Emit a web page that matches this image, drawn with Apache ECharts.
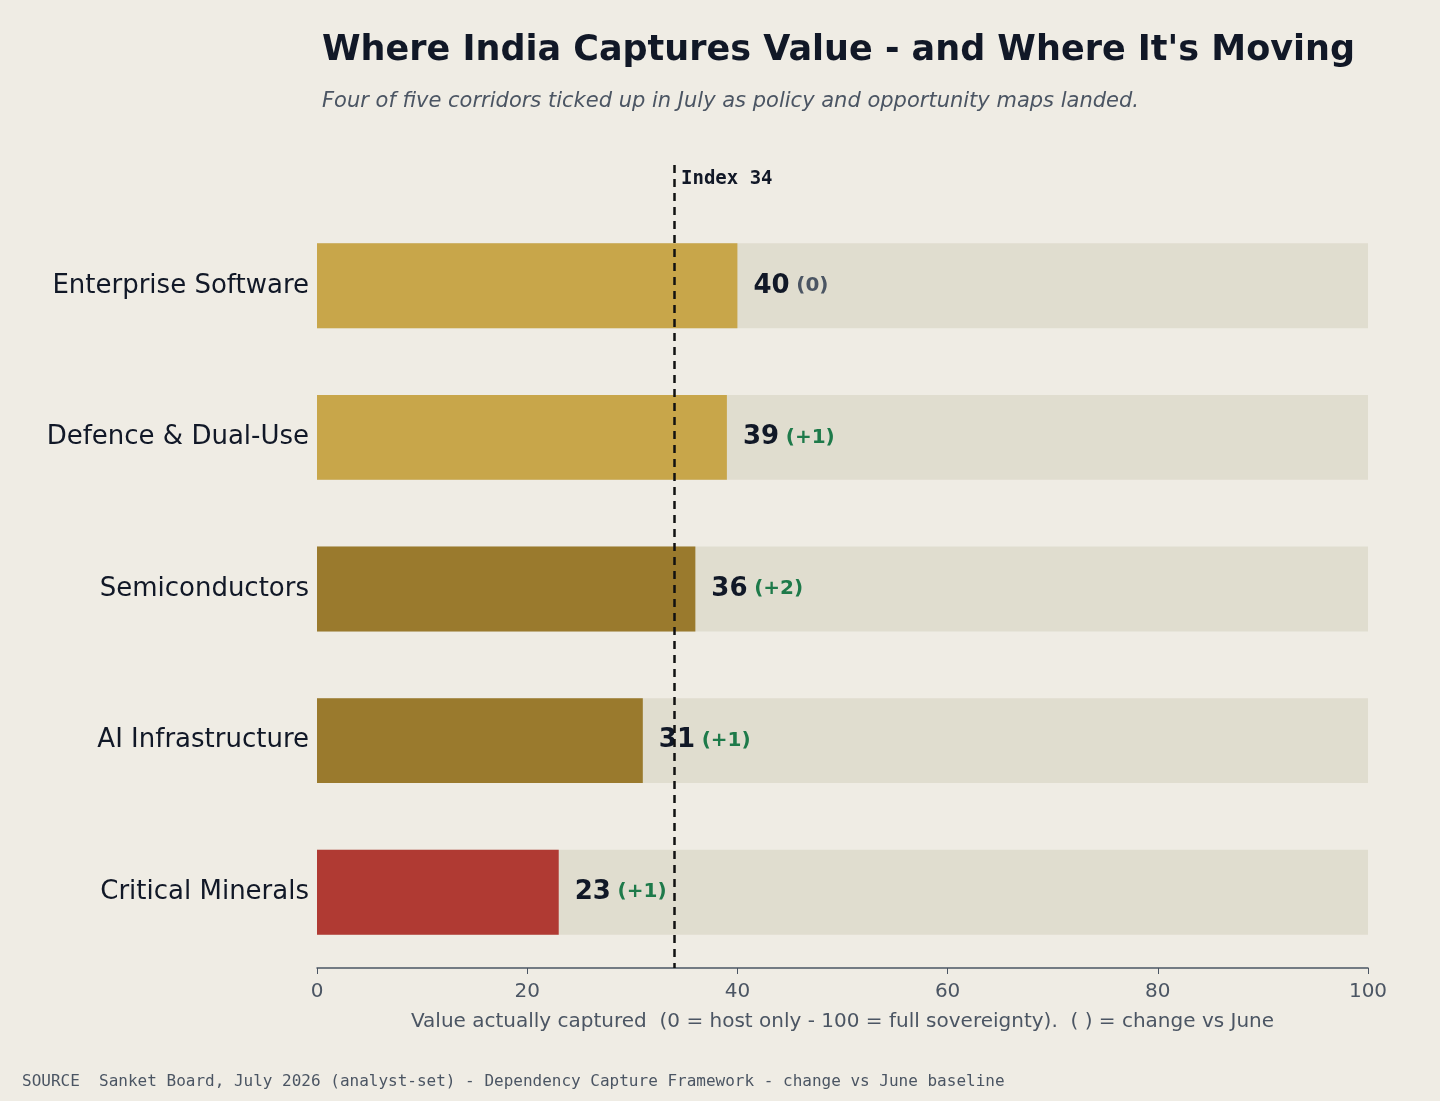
<!DOCTYPE html>
<html><head><meta charset="utf-8">
<script src="https://cdn.jsdelivr.net/npm/echarts@6/dist/echarts.min.js"></script>
<style>html,body{margin:0;background:#efece4}#main{width:1440px;height:1101px}</style>
</head><body><div id="main"></div>
<script>
var categories = ['Critical Minerals', 'AI Infrastructure', 'Semiconductors', 'Defence & Dual-Use', 'Enterprise Software'];
var values = [23, 31, 36, 39, 40];
var changes = ['(+1)', '(+1)', '(+2)', '(+1)', '(0)'];
var barColors = ['#b03a33', '#9a7a2d', '#9a7a2d', '#c8a64a', '#c8a64a'];
var indexValue = 34;
var xTicks = [0, 20, 40, 60, 80, 100];

var font = 'DejaVu Sans';
var myChart = echarts.init(document.getElementById('main'));
var option = {
    backgroundColor: '#efece4',
    animation: false,
    title: [
        {text: "Where India Captures Value - and Where It's Moving", left: 317, top: 28,
         textStyle: {fontFamily: font, fontSize: 35, fontWeight: 'bold', color: '#111827'}},
        {text: 'Four of five corridors ticked up in July as policy and opportunity maps landed.', left: 317, top: 86,
         textStyle: {fontFamily: font, fontSize: 21, fontStyle: 'italic', fontWeight: 'normal', color: '#4b5563'}},
        {text: 'SOURCE  Sanket Board, July 2026 (analyst-set) - Dependency Capture Framework - change vs June baseline',
         left: 17, top: 1069, textStyle: {fontFamily: 'DejaVu Sans Mono', fontSize: 16, fontWeight: 'normal', color: '#4b5563'}}
    ],
    grid: {left: 317, right: 72, top: 210, bottom: 133},
    xAxis: {
        type: 'value', min: 0, max: 100, interval: 20,
        name: 'Value actually captured  (0 = host only - 100 = full sovereignty).  ( ) = change vs June',
        nameLocation: 'middle', nameGap: 44,
        nameTextStyle: {fontFamily: font, fontSize: 20, color: '#4b5563'},
        axisLine: {show: true, lineStyle: {color: '#4b5563', width: 1.5}},
        axisTick: {show: true, length: 6, lineStyle: {color: '#4b5563'}},
        axisLabel: {fontFamily: font, fontSize: 20, color: '#4b5563', margin: 14,
            formatter: function (v) { return xTicks.indexOf(v) >= 0 ? v : ''; }},
        splitLine: {show: false}
    },
    yAxis: {
        type: 'category', data: categories,
        axisLine: {show: false}, axisTick: {show: false},
        axisLabel: {fontFamily: font, fontSize: 26, color: '#111827', margin: 8}
    },
    series: [
        {type: 'bar', data: categories.map(function () { return 100; }), barWidth: '56%',
         itemStyle: {color: '#e0ddcf'}, silent: true, z: 1},
        {type: 'bar', barGap: '-100%', barWidth: '56%', z: 2,
         data: values.map(function (v, i) { return {value: v, itemStyle: {color: barColors[i]}}; }),
         label: {show: true, position: 'right', distance: 16,
            formatter: function (p) {
                var c = changes[p.dataIndex];
                return '{v|' + p.value + '}  {' + (c === '(0)' ? 'z' : 'c') + '|' + c + '}';
            },
            rich: {
                v: {fontFamily: font, fontSize: 26, fontWeight: 'bold', color: '#111827'},
                c: {fontFamily: font, fontSize: 20, fontWeight: 'bold', color: '#1e7a4a'},
                z: {fontFamily: font, fontSize: 20, fontWeight: 'bold', color: '#4b5563'}
            }},
         markLine: {
            symbol: 'none', silent: true, z: 5,
            lineStyle: {type: [8, 6], color: '#111111', width: 2.5},
            label: {show: false},
            data: [[{coord: [indexValue, 0], y: 165}, {coord: [indexValue, 0], y: 968}]]
         }}
    ],
    graphic: [{
        type: 'text', left: 681, top: 170,
        style: {text: 'Index ' + indexValue, fontFamily: 'DejaVu Sans Mono', fontSize: 19, fontWeight: 'bold', fill: '#111827'}
    }]
};
myChart.setOption(option);
</script></body></html>
